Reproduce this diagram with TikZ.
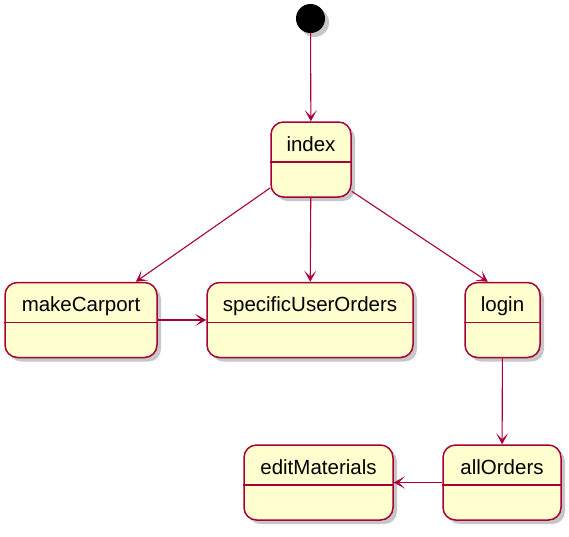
\documentclass[tikz,border=0pt]{standalone}
\usepackage{fontspec}
\setmainfont{Liberation Sans}
\usetikzlibrary{shadows,arrows.meta}
\definecolor{pborder}{HTML}{A80036}
\definecolor{pfill}{HTML}{FEFECE}
\tikzset{
  x=1pt, y=1pt,
  shade/.style={drop shadow={shadow xshift=4pt, shadow yshift=-4pt, fill=black, opacity=0.22}},
  statebox/.style={draw=pborder, fill=pfill, line width=1.5pt, rounded corners=12.5pt, shade,
    minimum height=75pt, inner sep=0pt},
  statetext/.style={anchor=base, inner sep=0pt, font=\fontsize{20.5}{24}\selectfont},
  sep/.style={draw=pborder, line width=1.5pt},
  conn/.style={draw=pborder, line width=1.1pt, -{Stealth[length=11pt, width=12pt, inset=6pt]}},
  startdot/.style={circle, fill=black, minimum size=29pt, inner sep=0pt, shade}
}
\newcommand{\statenode}[4]{%
  \node[statebox, minimum width=#3] (#1) at #4 {};
  \node[statetext] (#1-t) at ([yshift=-30pt]#1.north) {#2};
  \draw[sep] ([yshift=-40.5pt]#1.north west) -- ([yshift=-40.5pt]#1.north east);
}
\begin{document}
\begin{tikzpicture}
\useasboundingbox (0,0) rectangle (569,-536);
\node[startdot] (start) at (310.5,-18.5) {};
\statenode{index}{index}{80pt}{(311,-159.5)}
\statenode{makeCarport}{makeCarport}{152pt}{(81,-320)}
\statenode{specific}{specificUserOrders}{206pt}{(310,-320)}
\statenode{login}{login}{75pt}{(502.5,-320)}
\statenode{editMaterials}{editMaterials}{149pt}{(318.5,-482.5)}
\statenode{allOrders}{allOrders}{118pt}{(502,-482.5)}
\draw[conn] (start) -- (index);
\draw[conn] (index) -- (makeCarport);
\draw[conn] (index) -- (specific);
\draw[conn] (index.-38) -- (login.111);
\draw[conn] (makeCarport) -- (specific);
\draw[conn] (login) -- (allOrders);
\draw[conn] (allOrders) -- (editMaterials);
\end{tikzpicture}
\end{document}
